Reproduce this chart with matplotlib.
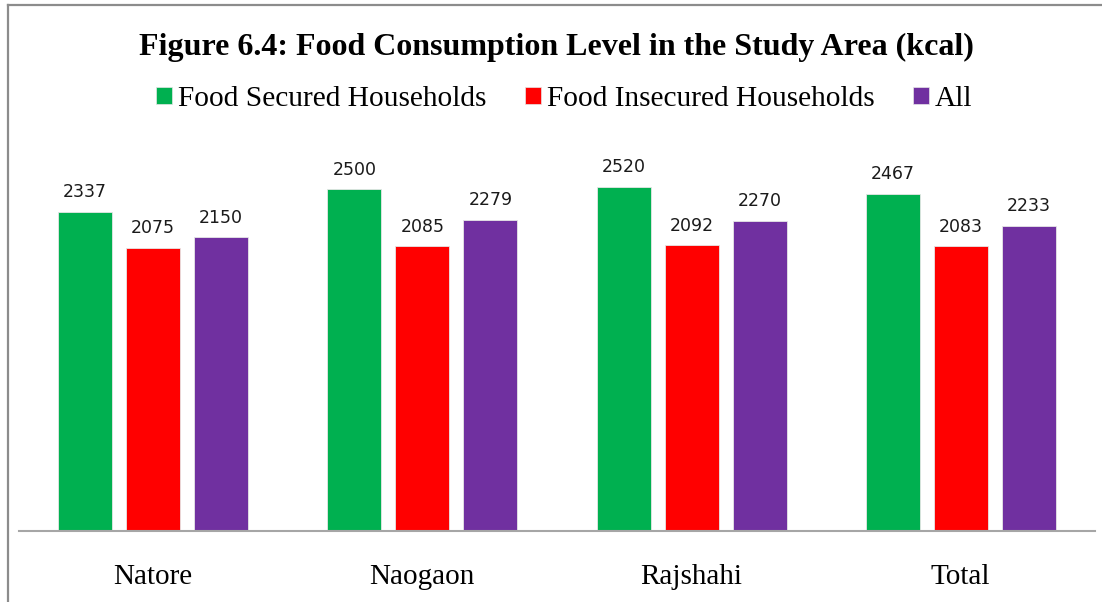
import matplotlib
matplotlib.use("Agg")
import matplotlib.pyplot as plt
from matplotlib.lines import Line2D
from matplotlib.patches import Patch
import numpy as np

categories = ["Natore", "Naogaon", "Rajshahi", "Total"]
series_names = ["Food Secured Households", "Food Insecured Households", "All"]
secured = [2337, 2500, 2520, 2467]
insecured = [2075, 2085, 2092, 2083]
all_hh = [2150, 2279, 2270, 2233]
colors = ["#00B050", "#FF0000", "#7030A0"]

W, H = 1102, 602
fig = plt.figure(figsize=(W / 100, H / 100), dpi=100)
fig.patch.set_facecolor("white")

# outer chart border (left and top visible)
fig.add_artist(Line2D([8 / W, 8 / W], [0, 1 - 5 / H], transform=fig.transFigure,
                      color="#8C8C8C", lw=1.6))
fig.add_artist(Line2D([8 / W, 1], [1 - 5 / H, 1 - 5 / H], transform=fig.transFigure,
                      color="#8C8C8C", lw=1.6))

ax_left = 18.6 / W
ax_right = 1095.3 / W
ax_bottom = (H - 531) / H
ax_height = 409.8 / H
ax = fig.add_axes([ax_left, ax_bottom, ax_right - ax_left, ax_height])

x = np.arange(len(categories))
step = 0.2526
width = 0.2006
for i, (vals, col, name) in enumerate(zip([secured, insecured, all_hh], colors, series_names)):
    bars = ax.bar(x + (i - 1) * step, vals, width, color=col, edgecolor="#E6E6E6",
                  linewidth=0.6, label=name, zorder=2)
    for b, v in zip(bars, vals):
        ax.annotate(str(v), (b.get_x() + b.get_width() / 2, v), xytext=(0, 10.5),
                    textcoords="offset points", ha="center", va="baseline",
                    fontsize=12.5, family="DejaVu Sans", color="#1A1A1A")

ax.set_xlim(-0.5, len(categories) - 0.5)
ax.set_ylim(0, 3000)
ax.set_yticks([])
ax.set_xticks(x)
ax.set_xticklabels(categories, family="Liberation Serif", fontsize=21)
ax.tick_params(axis="x", length=0, pad=23.5)
for s in ["top", "right", "left"]:
    ax.spines[s].set_visible(False)
ax.spines["bottom"].set_color("#A6A6A6")
ax.spines["bottom"].set_linewidth(1.5)

fig.text(556 / W, 1 - 47 / H, "Figure 6.4: Food Consumption Level in the Study Area (kcal)",
         ha="center", va="center", family="Liberation Serif", fontweight="bold",
         fontsize=23)

handles = [Patch(facecolor=c, edgecolor="#E6E6E6", linewidth=0.5) for c in colors]
fig.legend(handles, series_names, loc="center", bbox_to_anchor=(564 / W, 1 - 99 / H),
           ncol=3, frameon=False, prop={"family": "Liberation Serif", "size": 21.2},
           handlelength=0.55, handleheight=0.55, handletextpad=0.2,
           columnspacing=1.3)

fig.savefig("out.png", dpi=100, facecolor="white")
